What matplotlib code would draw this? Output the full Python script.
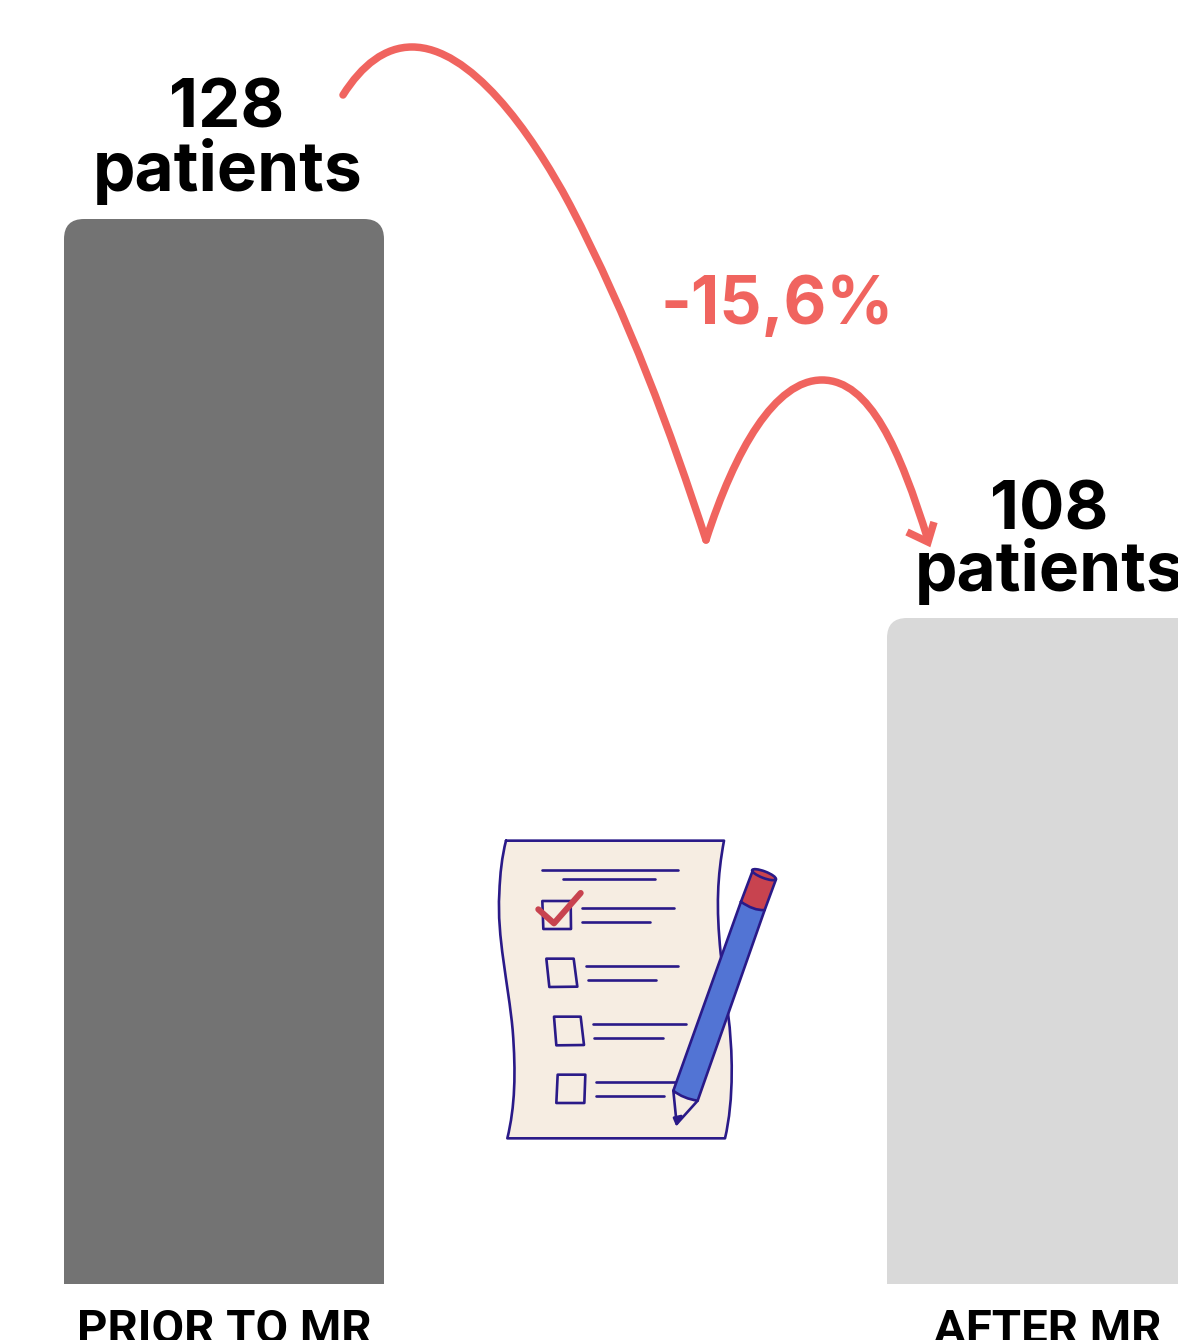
import matplotlib
matplotlib.use('Agg')
import matplotlib.pyplot as plt
from matplotlib.patches import Ellipse, FancyBboxPatch, PathPatch, Polygon
from matplotlib.path import Path
from matplotlib.transforms import Affine2D

plt.rcParams['font.family'] = ['Inter', 'DejaVu Sans']

labels = ['PRIOR TO MR', 'AFTER MR']
patients = [128, 108]
bar_colors = ['#737373', '#d9d9d9']
change_label = '-15,6%'

W, H = 1178, 1340
CORAL = '#f0645f'
INK = '#2a1a88'
RED = '#c8434f'
PAPER = '#f6ede2'

fig = plt.figure(figsize=(W / 100, H / 100), dpi=100, facecolor='white')

# bars use a truncated value axis, the baseline is not zero
px_per_patient = 19.95
baseline_px = 1284
y_base = 128 - 1065 / px_per_patient
ax_bar = fig.add_axes([0, (H - baseline_px) / H, 1, baseline_px / H])
ax_bar.set_xlim(0, W)
ax_bar.set_ylim(y_base, y_base + baseline_px / px_per_patient)
ax_bar.axis('off')

bar_left = [64, 887]
bar_width = 320
for x0, v, c in zip(bar_left, patients, bar_colors):
    # rounded box runs below the axes so only the top corners stay round
    ax_bar.add_patch(FancyBboxPatch(
        (x0, y_base - 3), bar_width, v - y_base + 3,
        boxstyle='round,pad=0,rounding_size=20',
        mutation_aspect=1 / px_per_patient,
        fc=c, ec='none', clip_on=True))

# overlay in pixel units for text, arrows and the checklist icon
ax = fig.add_axes([0, 0, 1, 1], facecolor='none')
ax.set_xlim(0, W)
ax.set_ylim(H, 0)
ax.axis('off')

count_x = [227, 1049]
word_x = [228, 1050]
count_y = [128, 529]
word_y = [191, 591]
for i, v in enumerate(patients):
    ax.text(count_x[i], count_y[i], str(v), fontsize=48.5, fontweight='bold',
            ha='center', va='baseline', color='black')
    ax.text(word_x[i], word_y[i], 'patients', fontsize=48.7, fontweight='bold',
            ha='center', va='baseline', color='black')

label_x = [224, 1048]
for x, t in zip(label_x, labels):
    ax.text(x, 1343, t, fontsize=34, fontweight='bold', family='Roboto',
            ha='center', va='baseline', color='black', clip_on=False)

ax.text(777.5, 324, change_label, fontsize=47.5, fontweight='bold', ha='center',
        va='baseline', color=CORAL)

# the two swooping arcs of the change arrow
C4 = Path.CURVE4
arc_1 = Path([(343, 95), (362, 65), (385, 47), (412, 47),
              (470, 47), (530, 130), (570, 205),
              (630, 320), (670, 430), (706, 540)],
             [Path.MOVETO] + [C4] * 9)
arc_2 = Path([(706, 540), (735, 450), (775, 380), (822, 380),
              (870, 380), (900, 450), (928, 540)],
             [Path.MOVETO] + [C4] * 6)
for p in (arc_1, arc_2):
    ax.add_patch(PathPatch(p, fc='none', ec=CORAL, lw=5.4, capstyle='round',
                           joinstyle='round'))
ax.plot([907, 928, 934], [532, 542, 522], color=CORAL, lw=5.4,
        solid_joinstyle='miter', solid_capstyle='butt')

# checklist icon, drawn at 3x and scaled down
icon = Affine2D().scale(1 / 3).translate(480, 820) + ax.transData
ICON_LW = 1.9


def shape(points, fc='none', z=3):
    ax.add_patch(Polygon(points, closed=True, fc=fc, ec=INK, lw=ICON_LW,
                         transform=icon, joinstyle='round', zorder=z))


def curve(verts, codes, fc='none', z=3):
    ax.add_patch(PathPatch(Path(verts, codes), fc=fc, ec=INK, lw=ICON_LW,
                           transform=icon, zorder=z, joinstyle='round',
                           capstyle='round'))


M, L = Path.MOVETO, Path.LINETO
paper = [(78, 62), (732, 62),
         (712, 170), (708, 260), (722, 400),
         (735, 510), (757, 640), (755, 760),
         (755, 830), (748, 900), (735, 955),
         (82, 955),
         (105, 860), (108, 760), (98, 630),
         (85, 490), (50, 350), (58, 220),
         (60, 160), (66, 110), (78, 62)]
curve(paper, [M, L] + [C4] * 9 + [L] + [C4] * 9, fc=PAPER)

rule_lines = [(185, 595, 150), (250, 525, 178),
              (305, 582, 264), (305, 510, 305),
              (318, 595, 437), (323, 527, 479),
              (340, 617, 611), (343, 548, 653),
              (348, 590, 785), (347, 552, 827)]
for x0, x1, y in rule_lines:
    curve([(x0, y), (x1, y)], [M, L])

boxes = [[(187, 243), (272, 243), (273, 327), (190, 327)],
         [(199, 416), (281, 416), (292, 500), (208, 501)],
         [(222, 590), (302, 590), (312, 675), (229, 676)],
         [(233, 764), (316, 764), (313, 849), (229, 849)]]
for b in boxes:
    shape(b)

ax.plot([175, 222, 302], [268, 310, 219], color=RED, lw=4.4,
        transform=icon, solid_capstyle='round', solid_joinstyle='round', zorder=4)

# pencil: tip, barrel, red end cap
shape([(580, 812), (653, 842), (590, 912)], fc=PAPER, z=5)
shape([(582, 893), (604, 888), (590, 912)], fc=INK, z=5)
curve([(783, 245), (854, 270), (653, 842), (625, 838), (600, 828), (580, 812), (783, 245)],
      [M, L, L, C4, C4, C4, L], fc='#5274d4', z=5)
curve([(817, 155), (888, 178), (854, 270), (832, 272), (806, 262), (783, 245), (817, 155)],
      [M, L, L, C4, C4, C4, L], fc=RED, z=6)
ax.add_patch(Ellipse((852, 164), 76, 20, angle=21, fc=RED, ec=INK, lw=ICON_LW,
                     transform=icon, zorder=7))

fig.savefig('out.png', dpi=100)
